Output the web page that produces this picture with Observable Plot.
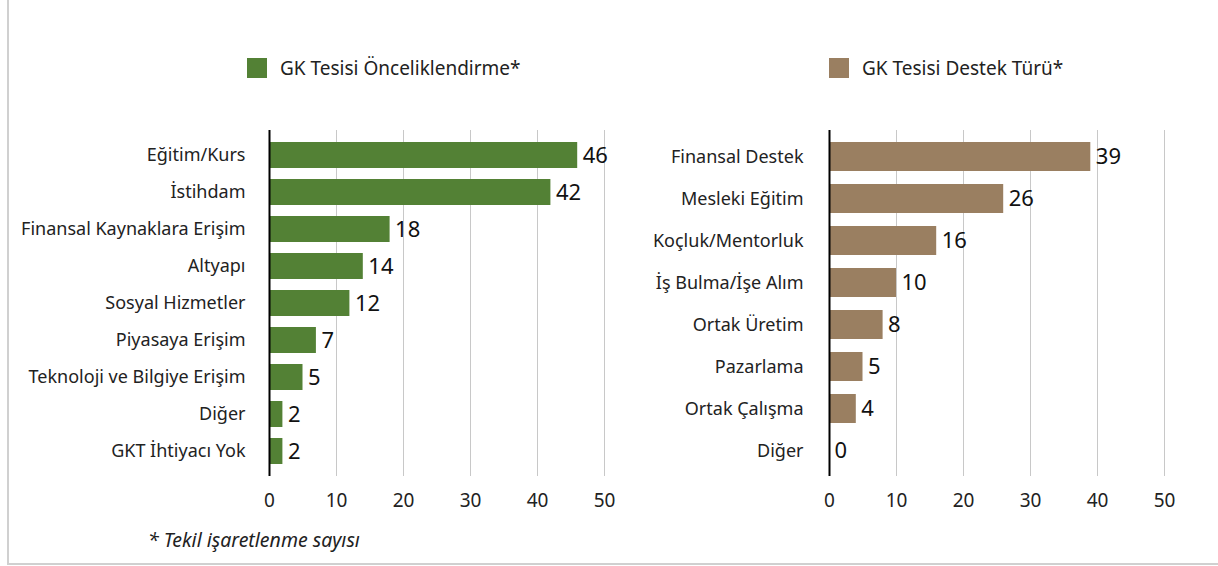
<!DOCTYPE html>
<html>
<head>
<meta charset="utf-8">
<script src="https://cdn.jsdelivr.net/npm/d3@7"></script>
<script src="https://cdn.jsdelivr.net/npm/@observablehq/plot@0.6"></script>
<style>
  html, body { margin: 0; padding: 0; background: #fff; }
  #wrap { position: relative; width: 1218px; height: 566px; font-family: "Noto Sans", Lato, sans-serif; color: #222; }
  .frame-left { position: absolute; left: 7px; top: 0; width: 2px; height: 565px; background: #d0d0d0; }
  .frame-bottom { position: absolute; left: 7px; top: 563px; width: 1211px; height: 2px; background: #d0d0d0; }
  .legend { position: absolute; top: 58px; height: 20px; display: flex; align-items: center; font-size: 19px; color: #222; }
  .legend .sw { width: 20px; height: 20px; margin-right: 13px; flex: none; }
  .caption { position: absolute; left: 148px; top: 526px; font-size: 19.5px; font-style: italic; color: #222; }
  .plot { position: absolute; top: 110px; }
</style>
</head>
<body>
<div id="wrap">
  <div class="frame-left"></div>
  <div class="frame-bottom"></div>
</div>
<script>
// ---- Data ----
const leftTitle = "GK Tesisi Önceliklendirme*";
const leftCats = ["Eğitim/Kurs", "İstihdam", "Finansal Kaynaklara Erişim", "Altyapı", "Sosyal Hizmetler", "Piyasaya Erişim", "Teknoloji ve Bilgiye Erişim", "Diğer", "GKT İhtiyacı Yok"];
const leftValues = [46, 42, 18, 14, 12, 7, 5, 2, 2];

const rightTitle = "GK Tesisi Destek Türü*";
const rightCats = ["Finansal Destek", "Mesleki Eğitim", "Koçluk/Mentorluk", "İş Bulma/İşe Alım", "Ortak Üretim", "Pazarlama", "Ortak Çalışma", "Diğer"];
const rightValues = [39, 26, 16, 10, 8, 5, 4, 0];

const xTicks = [0, 10, 20, 30, 40, 50];
const captionText = "* Tekil işaretlenme sayısı";

const leftColor = "#538135";
const rightColor = "#9a7f61";

const wrap = document.getElementById("wrap");

function makeChart(cats, values, color, opts) {
  const data = cats.map((c, i) => ({cat: c, value: values[i]}));
  return Plot.plot({
    width: opts.width,
    height: 410,
    marginLeft: opts.marginLeft,
    marginRight: opts.marginRight,
    marginTop: 20,
    marginBottom: 44,
    x: {domain: [0, 50]},
    y: {domain: cats, paddingInner: opts.pi, paddingOuter: opts.po},
    style: {fontFamily: "'Noto Sans', Lato, sans-serif", background: "transparent", color: "#222"},
    marks: [
      Plot.gridX({ticks: xTicks.slice(1), stroke: "#c8c8c8", strokeOpacity: 1}),
      Plot.barX(data, {x: "value", y: "cat", fill: color}),
      Plot.ruleX([0], {stroke: "#000", strokeWidth: 2}),
      Plot.text(data, {x: "value", y: "cat", text: d => String(d.value), dx: 5, textAnchor: "start", fontSize: 22, fill: "#111"}),
      Plot.axisX({ticks: xTicks, tickSize: 0, tickPadding: 17, fontSize: 19, label: null, tickFormat: d => String(d)}),
      Plot.axisY({tickSize: 0, tickPadding: opts.labelPad, fontSize: 18, label: null})
    ]
  });
}

function addLegend(text, color, left) {
  const d = document.createElement("div");
  d.className = "legend";
  d.style.left = left + "px";
  const sw = document.createElement("div");
  sw.className = "sw";
  sw.style.background = color;
  const t = document.createElement("span");
  t.textContent = text;
  d.appendChild(sw); d.appendChild(t);
  wrap.appendChild(d);
}

const left = makeChart(leftCats, leftValues, leftColor, {width: 620, marginLeft: 269, marginRight: 16, pi: 0.29, po: 0.2, labelPad: 24});
left.classList.add("plot");
left.style.left = "0px";
wrap.appendChild(left);

const right = makeChart(rightCats, rightValues, rightColor, {width: 598, marginLeft: 209, marginRight: 54, pi: 0.31, po: 0.19, labelPad: 26});
right.classList.add("plot");
right.style.left = "620px";
wrap.appendChild(right);

addLegend(leftTitle, leftColor, 247);
addLegend(rightTitle, rightColor, 829);

const cap = document.createElement("div");
cap.className = "caption";
cap.textContent = captionText;
wrap.appendChild(cap);
</script>
</body>
</html>
